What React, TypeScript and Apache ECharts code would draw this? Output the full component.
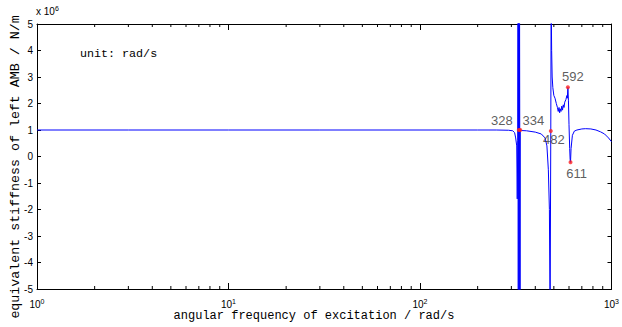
import React, { useEffect, useRef } from "react";
import * as echarts from "echarts";

// excitation frequency (rad/s) and equivalent stiffness (x10^6 N/m)
const freq = [
  1, 3, 10, 30, 100, 200, 250, 290, 305, 312, 316, 320, 322, 324, 325, 326, 327, 328,
  330, 331, 333, 334, 338, 360, 400, 430, 450, 460, 468, 474, 478, 482, 484, 487, 490,
  494, 500, 507, 515, 522, 527, 532, 536, 540, 545, 550, 555, 560, 565, 570, 578, 585,
  588, 592, 596, 600, 605, 608, 611, 615, 625, 640, 660, 700, 733, 780, 830, 877, 920,
  965, 1000,
];
const stiffness = [
  1.0, 1.0, 1.0, 1.0, 1.0, 1.0, 1.0, 0.99, 0.97, 0.9, 0.7, 0.4, -1.6, 0.6, 6, -6, 6, 1.0,
  -6, 6, -6, 1.0, 0.98, 0.97, 0.92, 0.85, 0.7, 0.4, -0.5, -2, -6, 0.96, 6, 4.0, 3.0,
  2.6, 2.3, 2.2, 2.0, 1.85, 1.7, 1.85, 1.65, 1.8, 1.7, 1.9, 1.75, 1.95, 1.85, 2.05, 2.15, 2.3,
  2.2, 2.61, 2.1, 1.2, 0.3, -0.1, -0.22, 0.3, 0.8, 0.96, 1.0, 1.04, 1.05, 1.04, 1.0, 0.93, 0.85,
  0.7, 0.56,
];

const markFreq = [328, 334, 482, 592, 611];
const markValue = [1.0, 1.0, 0.96, 2.61, -0.22];
const markLabelOffset = [
  [-17, -10],
  [13, -10],
  [3, 8],
  [5, -11],
  [6, 11],
];

const minorTicks = [2, 3, 4, 5, 6, 7, 8, 9, 20, 30, 40, 50, 60, 70, 80, 90, 200, 300, 400, 500, 600, 700, 800, 900];

const xTitle = "angular frequency of excitation / rad/s";
const yTitle = "equivalent stiffness of left AMB / N/m";
const unitNote = "unit: rad/s";

export default function App() {
  const ref = useRef<HTMLDivElement>(null);
  useEffect(() => {
    if (!ref.current) return;
    const chart = echarts.init(ref.current, undefined, { renderer: "svg" });
    const lineData = freq.map((f, i) => [f, stiffness[i]]);
    const marks = markFreq.map((f, i) => ({
      value: [f, markValue[i]],
      label: {
        show: true,
        position: "inside",
        offset: markLabelOffset[i],
        formatter: String(f),
      },
    }));
    const xLabel = {
      fontSize: 10,
      fontFamily: "Liberation Sans",
      color: "#000",
      margin: 9,
      formatter: (v: number) => "{b|10}{s|" + Math.round(Math.log10(v)) + "}",
      rich: {
        b: { fontSize: 10, fontFamily: "Liberation Sans", color: "#000" },
        s: { fontSize: 7, fontFamily: "Liberation Sans", color: "#000", verticalAlign: "top", padding: [0, 0, 6, 0] },
      },
    };
    const axisLine = { show: true, onZero: false, lineStyle: { color: "#000", width: 1 } };
    chart.setOption({
      animation: false,
      grid: { left: 37, top: 24, right: 6, bottom: 38, containLabel: false },
      xAxis: [
        {
          type: "log",
          logBase: 10,
          min: 1,
          max: 1000,
          position: "bottom",
          axisLine,
          axisTick: { inside: true, length: 6, lineStyle: { color: "#000" } },
          axisLabel: xLabel,
          splitLine: { show: false },
        },
        {
          type: "log",
          logBase: 10,
          min: 1,
          max: 1000,
          position: "top",
          axisLine,
          axisTick: { inside: true, length: 6, lineStyle: { color: "#000" } },
          axisLabel: { show: false },
          splitLine: { show: false },
        },
      ],
      yAxis: [
        {
          type: "value",
          min: -5,
          max: 5,
          interval: 1,
          position: "left",
          axisLine,
          axisTick: { inside: true, length: 4, lineStyle: { color: "#000" } },
          axisLabel: { fontSize: 10, fontFamily: "Liberation Sans", color: "#000", margin: 4 },
          splitLine: { show: false },
        },
        {
          type: "value",
          min: -5,
          max: 5,
          interval: 1,
          position: "right",
          axisLine,
          axisTick: { inside: true, length: 4, lineStyle: { color: "#000" } },
          axisLabel: { show: false },
          splitLine: { show: false },
        },
      ],
      series: [
        {
          type: "line",
          data: lineData,
          showSymbol: false,
          symbol: "none",
          clip: true,
          lineStyle: { color: "#0000ff", width: 1 },
          z: 2,
        },
        {
          type: "scatter",
          data: marks,
          symbol: "circle",
          symbolSize: 4,
          itemStyle: { color: "#ff2020" },
          label: { fontSize: 13, fontFamily: "Liberation Sans", color: "#333" },
          z: 3,
        },
        {
          type: "custom",
          silent: true,
          data: minorTicks.map((t) => [t, 0]),
          encode: { x: 0, y: 1 },
          clip: false,
          renderItem: (params: any, api: any) => {
            const x = api.value(0);
            const pb = api.coord([x, -5]);
            const pt = api.coord([x, 5]);
            const st = { stroke: "#000", lineWidth: 1 };
            return {
              type: "group",
              children: [
                { type: "line", shape: { x1: pb[0], y1: pb[1], x2: pb[0], y2: pb[1] - 3 }, style: st },
                { type: "line", shape: { x1: pt[0], y1: pt[1], x2: pt[0], y2: pt[1] + 3 }, style: st },
              ],
            };
          },
          z: 1,
        },
      ],
      graphic: [
        {
          type: "text",
          left: 36,
          top: 5,
          style: {
            text: "{a|x 10}{b|6}",
            rich: {
              a: { fontSize: 10, fontFamily: "Liberation Sans", fill: "#000" },
              b: { fontSize: 7, fontFamily: "Liberation Sans", fill: "#000", verticalAlign: "top", padding: [0, 0, 6, 0] },
            },
          },
        },
        {
          type: "text",
          x: 80,
          y: 54,
          style: {
            text: unitNote,
            fontSize: 11.7,
            fontFamily: "Liberation Mono",
            fill: "#000",
            verticalAlign: "middle",
            align: "left",
          },
        },
        {
          type: "text",
          x: 314,
          y: 316,
          style: {
            text: xTitle,
            fontSize: 12,
            fontFamily: "Liberation Mono",
            fill: "#000",
            align: "center",
            verticalAlign: "middle",
          },
        },
        {
          type: "text",
          x: 15,
          y: 167,
          rotation: Math.PI / 2,
          style: {
            text: yTitle,
            fontSize: 13.3,
            fontFamily: "Liberation Mono",
            fill: "#000",
            align: "center",
            verticalAlign: "middle",
          },
        },
      ],
    });
    return () => chart.dispose();
  }, []);
  return <div ref={ref} style={{ position: "fixed", left: 0, top: 0, width: 622, height: 327, background: "#fff" }} />;
}
